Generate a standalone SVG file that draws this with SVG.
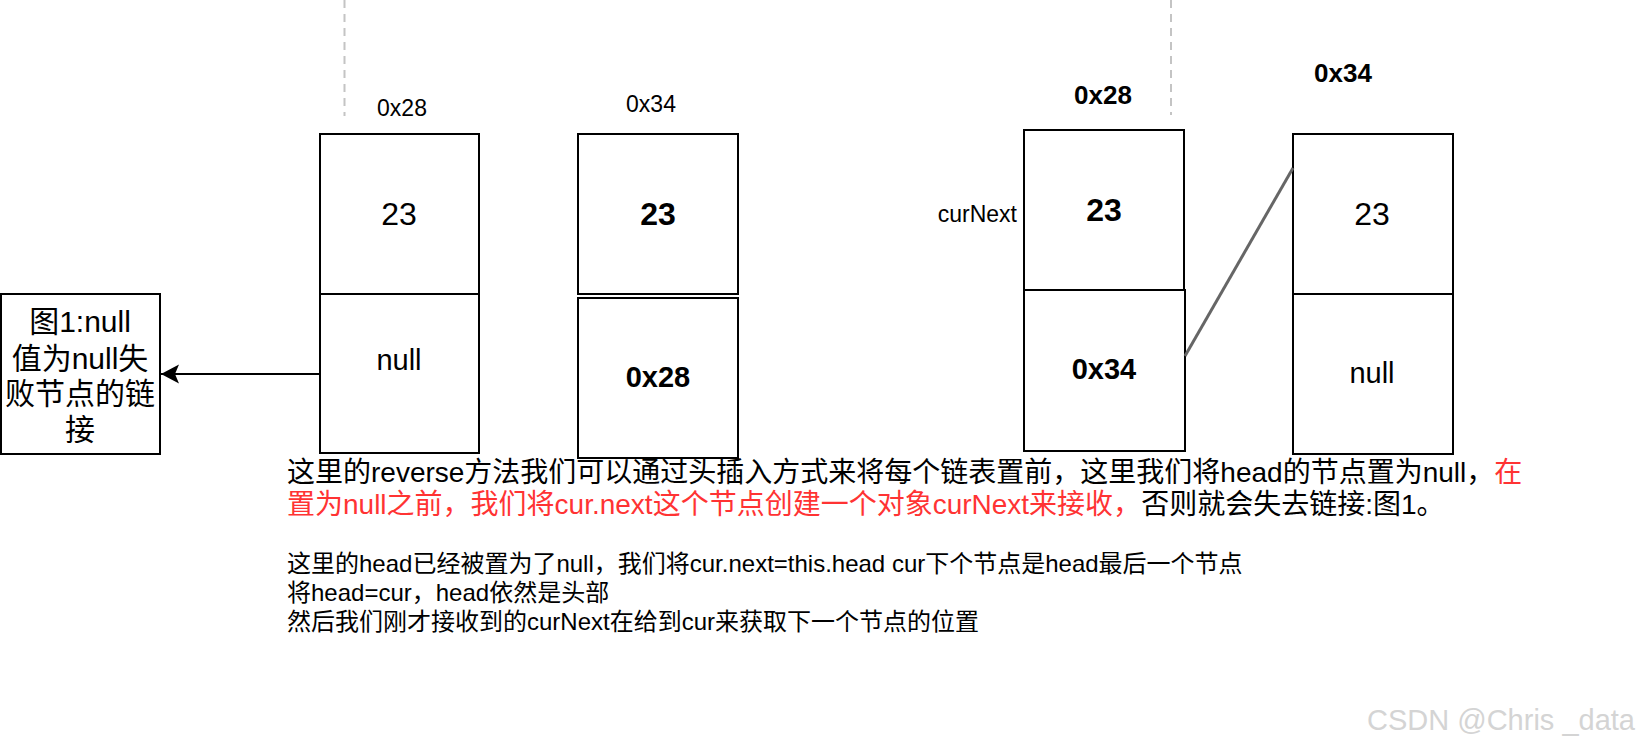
<svg xmlns="http://www.w3.org/2000/svg" width="1646" height="750" viewBox="0 0 1646 750">
<style>
text{font-family:"Liberation Sans","Noto Sans CJK SC",sans-serif;fill:#000}
.cell{fill:#fff;stroke:#000;stroke-width:2}
.c{text-anchor:middle}
.v{font-size:32px}
.s{font-size:29px}
.b{font-weight:bold}
.lbl{font-size:23px}
.blbl{font-size:26px;font-weight:bold}
.dash{stroke:#c4c4c4;stroke-width:2;stroke-dasharray:8 6;fill:none}
.red{fill:#ff3333}
</style>
<defs>
<marker id="arr" markerUnits="userSpaceOnUse" markerWidth="20" markerHeight="20" refX="19" refY="10" orient="auto" viewBox="0 0 20 20">
<path d="M19 10 L1 0.5 L5 10 L1 19.5 Z" fill="#000"/>
</marker>
</defs>
<rect width="1646" height="750" fill="#fff"/>
<line class="dash" x1="344.5" y1="0" x2="344.5" y2="116"/>
<line class="dash" x1="1171" y1="0" x2="1171" y2="115"/>
<g id="note-fig1">
<rect class="cell" x="1" y="294" width="159" height="160"/>
<text class="c" x="80" y="332" font-size="30">图1:null</text>
<text class="c" x="80" y="369" font-size="30">值为null失</text>
<text class="c" x="80" y="404" font-size="30">败节点的链</text>
<text class="c" x="80" y="440" font-size="30">接</text>
</g>
<g id="nodeA">
<text class="c lbl" x="402" y="116">0x28</text>
<rect class="cell" x="320" y="134" width="159" height="160"/>
<rect class="cell" x="320" y="294" width="159" height="159"/>
<text class="c v" x="399" y="225">23</text>
<text class="c s" x="399" y="370">null</text>
</g>
<g id="nodeB">
<text class="c lbl" x="651" y="112">0x34</text>
<rect class="cell" x="578" y="134" width="160" height="160"/>
<rect class="cell" x="578" y="298" width="160" height="160"/>
<text class="c v b" x="658" y="225">23</text>
<text class="c s b" x="658" y="387">0x28</text>
</g>
<g id="nodeC">
<text class="c blbl" x="1103" y="104">0x28</text>
<text x="1017" y="222" font-size="23" text-anchor="end">curNext</text>
<rect class="cell" x="1024" y="130" width="160" height="160"/>
<rect class="cell" x="1024" y="290" width="161" height="161"/>
<text class="c v b" x="1104" y="221">23</text>
<text class="c s b" x="1104" y="379">0x34</text>
</g>
<g id="nodeD">
<text class="c blbl" x="1343" y="82">0x34</text>
<rect class="cell" x="1293" y="134" width="160" height="160"/>
<rect class="cell" x="1293" y="294" width="160" height="160"/>
<text class="c v" x="1372" y="225">23</text>
<text class="c s" x="1372" y="383">null</text>
</g>
<g id="connectors">
<line x1="319" y1="374" x2="161" y2="374" stroke="#000" stroke-width="2" marker-end="url(#arr)"/>
<line x1="1185" y1="356" x2="1293" y2="168" stroke="#666" stroke-width="3"/>
</g>
<g id="text-block">
<text x="287" y="482" font-size="28">这里的reverse方法我们可以通过头插入方式来将每个链表置前，这里我们将head的节点置为null，<tspan class="red">在</tspan></text>
<text x="287" y="514" font-size="28"><tspan class="red">置为null之前，我们将cur.next这个节点创建一个对象curNext来接收，</tspan>否则就会失去链接:图1。</text>
<text x="287" y="572" font-size="24">这里的head已经被置为了null，我们将cur.next=this.head cur下个节点是head最后一个节点</text>
<text x="287" y="601" font-size="24">将head=cur，head依然是头部</text>
<text x="287" y="630" font-size="24">然后我们刚才接收到的curNext在给到cur来获取下一个节点的位置</text>
</g>
<text x="1367" y="730" font-size="29" style="fill:#d4d4d4">CSDN @Chris _data</text>
</svg>
